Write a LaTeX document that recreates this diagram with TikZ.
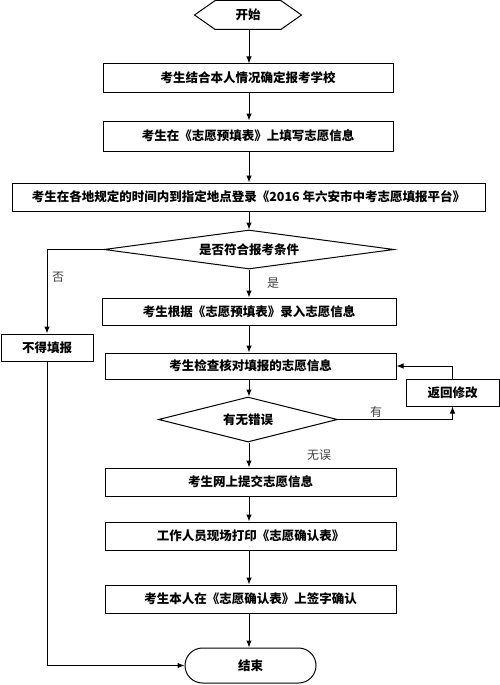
\documentclass[tikz,border=0pt]{standalone}
\usepackage{fontspec}
\setmainfont{Noto Sans CJK SC}
\usetikzlibrary{arrows.meta,shapes.geometric,shapes.symbols,shapes.misc}
\tikzset{
  base/.style={draw, line width=1pt, inner sep=0pt, font=\bfseries\fontsize{12.5}{14}\selectfont},
  box/.style={base, rectangle},
  dia/.style={base, diamond},
  lbl/.style={font=\fontsize{12}{14}\selectfont, text=black!75, inner sep=0pt},
  arr/.style={line width=1pt, -{Latex[length=7pt,width=5.5pt]}},
  ln/.style={line width=1pt}
}
\begin{document}
\begin{tikzpicture}[x=1pt,y=-1pt]
\useasboundingbox (0,0) rectangle (500,685);
\node[base, signal, signal to=east and west, signal pointer angle=70, minimum width=107, minimum height=29] (start) at (248,15) {开始};
\node[box, minimum width=290, minimum height=28] (b1) at (248,78) {考生结合本人情况确定报考学校};
\node[box, minimum width=290, minimum height=30] (b2) at (248,136) {考生在《志愿预填表》上填写志愿信息};
\node[box, minimum width=473, minimum height=28] (b3) at (248.5,197) {考生在各地规定的时间内到指定地点登录《2016 年六安市中考志愿填报平台》};
\node[dia, aspect=7.4, minimum width=290, minimum height=39] (d1) at (249,249.5) {是否符合报考条件};
\node[box, minimum width=294, minimum height=27] (b4) at (249,311.5) {考生根据《志愿预填表》录入志愿信息};
\node[box, minimum width=92, minimum height=27] (ng) at (47,347.5) {不得填报};
\node[box, minimum width=291, minimum height=26] (b5) at (250.5,366) {考生检查核对填报的志愿信息};
\node[box, minimum width=93, minimum height=27] (back) at (452.5,392.5) {返回修改};
\node[dia, aspect=4, minimum width=179, minimum height=45] (d2) at (248,419.5) {有无错误};
\node[box, minimum width=291, minimum height=28] (b6) at (250.5,482) {考生网上提交志愿信息};
\node[box, minimum width=291, minimum height=28] (b7) at (250.5,536) {工作人员现场打印《志愿确认表》};
\node[box, minimum width=291, minimum height=28] (b8) at (250.5,599) {考生本人在《志愿确认表》上签字确认};
\node[base, rounded rectangle, minimum width=131, minimum height=35] (end) at (250.5,665.5) {结束};
\coordinate (c) at (249,0);
\draw[arr] (c |- start.south) -- (c |- b1.north);
\draw[arr] (c |- b1.south) -- (c |- b2.north);
\draw[arr] (c |- b2.south) -- (c |- b3.north);
\draw[arr] (c |- b3.south) -- (d1.north);
\draw[arr] (d1.west) -| (ng.north);
\draw[arr] (d1.south) -- (d1.south |- b4.north);
\draw[arr] (c |- b4.south) -- (c |- b5.north);
\draw[arr] (c |- b5.south) -- (c |- d2.north);
\draw[arr] (d2.east) -| (back.south);
\draw[arr] (back.north) |- (b5.east);
\draw[arr] (c |- d2.south) -- (c |- b6.north);
\draw[arr] (c |- b6.south) -- (c |- b7.north);
\draw[arr] (c |- b7.south) -- (c |- b8.north);
\draw[arr] (c |- b8.south) -- (c |- end.north);
\draw[arr] (ng.south) |- (end.west);
\node[lbl] (l1) at (58,277) {否};
\node[lbl] (l2) at (273,283) {是};
\node[lbl] (l3) at (376,412) {有};
\node[lbl] (l4) at (319,455) {无误};
\end{tikzpicture}
\end{document}
